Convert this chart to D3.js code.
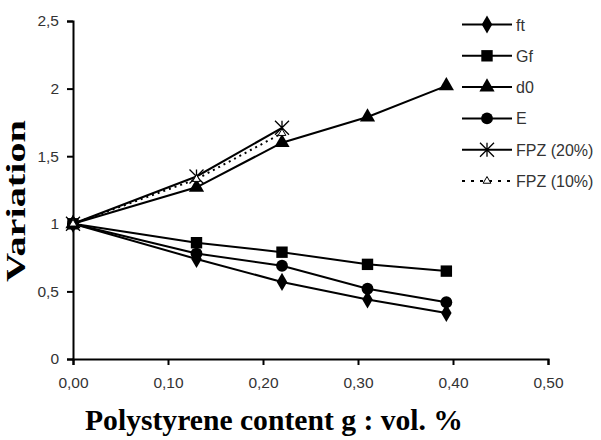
<!DOCTYPE html>
<html>
<head>
<meta charset="utf-8">
<script src="https://cdn.jsdelivr.net/npm/d3@7"></script>
<style>
  body { margin: 0; background: #fff; }
  .tick text { font-family: "Liberation Sans", Arial, sans-serif; font-size: 15.5px; fill: #333; }
  .title { font-family: "Liberation Serif", "Times New Roman", serif; font-weight: bold; }
  .legend text { font-family: "Liberation Sans", Arial, sans-serif; font-size: 16px; fill: #333; }
</style>
</head>
<body>
<div id="chart"></div>
<script>
// data
const xVals = [0, 0.13, 0.22, 0.31, 0.393]
const ftVals = [1, 0.74, 0.57, 0.44, 0.34]
const gfVals = [1, 0.86, 0.79, 0.70, 0.65]
const d0Vals = [1, 1.27, 1.60, 1.79, 2.02]
const eVals = [1, 0.78, 0.69, 0.52, 0.42]
const fpz20Vals = [1, 1.35, 1.71]
const fpz10Vals = [1, 1.33, 1.67]
const seriesNames = ["ft", "Gf", "d0", "E", "FPZ (20%)", "FPZ (10%)"]
const xTicks = [0, 0.1, 0.2, 0.3, 0.4, 0.5]
const yTicks = [0, 0.5, 1, 1.5, 2, 2.5]

const width = 601, height = 440
const margin = {left: 73, top: 21, right: 53, bottom: 81}

var svg = d3.select("#chart").append("svg")
    .attr("width", width)
    .attr("height", height)

const x = d3.scaleLinear().domain([0, 0.5]).range([margin.left, width - margin.right])
const y = d3.scaleLinear().domain([0, 2.5]).range([height - margin.bottom, margin.top])

const comma = d3.formatLocale({decimal: ",", thousands: ".", grouping: [3], currency: ["", ""]})

svg.append("g")
    .attr("transform", `translate(0,${y(0)})`)
    .call(d3.axisBottom(x).tickValues(xTicks).tickFormat(comma.format(".2f")).tickSize(6).tickPadding(12))
    .call(g => g.selectAll("line, path").attr("stroke", "#000").attr("stroke-width", 2))

svg.append("g")
    .attr("transform", `translate(${x(0)},0)`)
    .call(d3.axisLeft(y).tickValues(yTicks).tickFormat(d => String(d).replace(".", ",")).tickSize(6).tickPadding(8))
    .call(g => g.selectAll("line, path").attr("stroke", "#000").attr("stroke-width", 2))

const series = [
  {name: "ft", vals: ftVals, sym: d3.symbolDiamond, size: 95, dash: null},
  {name: "Gf", vals: gfVals, sym: d3.symbolSquare, size: 130, dash: null},
  {name: "d0", vals: d0Vals, sym: d3.symbolTriangle, size: 100, dash: null},
  {name: "E", vals: eVals, sym: d3.symbolCircle, size: 110, dash: null},
  {name: "FPZ (20%)", vals: fpz20Vals, sym: "star", size: 0, dash: null},
  {name: "FPZ (10%)", vals: fpz10Vals, sym: "open", size: 0, dash: "2,4"}
]

const line = d3.line().x((d, i) => x(xVals[i])).y(d => y(d))

function drawMarker(g, s, cx, cy) {
  if (s.sym === "star") {
    const r = 7
    g.append("path")
      .attr("d", `M${cx - r},${cy - r}L${cx + r},${cy + r}M${cx - r},${cy + r}L${cx + r},${cy - r}M${cx},${cy - r}L${cx},${cy + r}`)
      .attr("stroke", "#000").attr("stroke-width", 1.3).attr("fill", "none")
  } else if (s.sym === "open") {
    g.append("path")
      .attr("d", d3.symbol(d3.symbolTriangle, 26)())
      .attr("transform", `translate(${cx},${cy})`)
      .attr("fill", "#fff").attr("stroke", "#000").attr("stroke-width", 1)
  } else {
    g.append("path")
      .attr("d", d3.symbol(s.sym, s.size)())
      .attr("transform", `translate(${cx},${cy})`)
      .attr("fill", "#000")
  }
}

series.forEach(s => {
  const g = svg.append("g")
  g.append("path")
    .attr("d", line(s.vals))
    .attr("fill", "none")
    .attr("stroke", "#000")
    .attr("stroke-width", 2)
    .attr("stroke-dasharray", s.dash)
  s.vals.forEach((v, i) => drawMarker(g, s, x(xVals[i]), y(v)))
})

// legend
const legend = svg.append("g").attr("class", "legend")
series.forEach((s, i) => {
  const ly = 24.5 + i * 31.3
  const g = legend.append("g")
  g.append("line")
    .attr("x1", 462).attr("x2", 512).attr("y1", ly).attr("y2", ly)
    .attr("stroke", "#000").attr("stroke-width", 2)
    .attr("stroke-dasharray", s.dash ? "3,6" : null)
  drawMarker(g, s, 487, ly)
  g.append("text")
    .attr("x", 516).attr("y", ly + 6)
    .text(seriesNames[i])
})

svg.append("text")
    .attr("class", "title")
    .attr("x", 85)
    .attr("y", 430)
    .attr("font-size", 30)
    .attr("textLength", 378)
    .attr("lengthAdjust", "spacingAndGlyphs")
    .text("Polystyrene content g : vol. %")

svg.append("text")
    .attr("class", "title")
    .attr("transform", "translate(25,282) rotate(-90)")
    .attr("font-size", 27)
    .attr("textLength", 162)
    .attr("lengthAdjust", "spacingAndGlyphs")
    .text("Variation")
</script>
</body>
</html>
